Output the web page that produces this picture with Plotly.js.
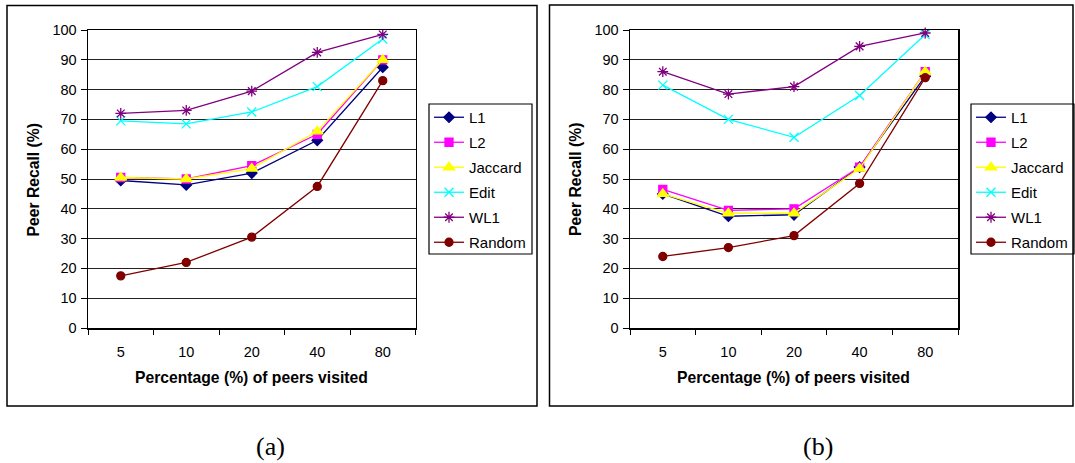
<!DOCTYPE html>
<html>
<head>
<meta charset="utf-8">
<script src="https://cdn.plot.ly/plotly-3.0.1.min.js"></script>
<style>html,body{margin:0;padding:0;background:#fff;}#chart{width:1075px;height:463px;}</style>
</head>
<body>
<div id="chart"></div>
<script>
const categories = ['5', '10', '20', '40', '80'];
const seriesNames = ['L1', 'L2', 'Jaccard', 'Edit', 'WL1', 'Random'];

// Chart (a)
const aL1      = [49.5, 48.0, 52.0, 63.0, 87.5];
const aL2      = [50.5, 50.0, 54.5, 65.0, 90.0];
const aJaccard = [50.5, 50.0, 53.5, 66.0, 90.0];
const aEdit    = [69.5, 68.5, 72.5, 81.0, 97.0];
const aWL1     = [72.0, 73.0, 79.5, 92.5, 98.5];
const aRandom  = [17.5, 22.0, 30.5, 47.5, 83.0];

// Chart (b)
const bL1      = [45.0, 37.5, 38.0, 54.0, 84.5];
const bL2      = [46.5, 39.5, 40.0, 54.0, 86.0];
const bJaccard = [45.0, 38.5, 38.5, 53.5, 86.0];
const bEdit    = [81.5, 70.0, 64.0, 78.0, 98.5];
const bWL1     = [86.0, 78.5, 81.0, 94.5, 99.0];
const bRandom  = [24.0, 27.0, 31.0, 48.5, 84.0];

const yTicks = [0, 10, 20, 30, 40, 50, 60, 70, 80, 90, 100];

const styles = [
  {color: '#000080', symbol: 'diamond', size: 8},
  {color: '#FF00FF', symbol: 'square', size: 8},
  {color: '#FFFF00', symbol: 'triangle-up', size: 10},
  {color: '#00FFFF', symbol: 'x-thin-open', size: 9},
  {color: '#800080', symbol: 'asterisk-open', size: 9},
  {color: '#800000', symbol: 'circle', size: 8}
];

const aData = [aL1, aL2, aJaccard, aEdit, aWL1, aRandom];
const bData = [bL1, bL2, bJaccard, bEdit, bWL1, bRandom];

const traces = [];
function addTraces(dataSets, xa, ya, legendName, grpPrefix) {
  dataSets.forEach((vals, i) => {
    const s = styles[i];
    traces.push({
      type: 'scatter', mode: 'lines+markers',
      x: categories, y: vals, name: seriesNames[i],
      xaxis: xa, yaxis: ya, legend: legendName, legendgroup: grpPrefix + i,
      line: {color: s.color, width: 1.3},
      marker: {color: s.color, symbol: s.symbol, size: s.size, line: {color: s.color, width: 1.3}},
      cliponaxis: false
    });
  });
}
addTraces(aData, 'x', 'y', 'legend', 'a');
addTraces(bData, 'x2', 'y2', 'legend2', 'b');

const fam = 'Arial, Liberation Sans, sans-serif';
const tickFont = {family: fam, size: 14.5, color: '#000'};
const titleFont = {family: fam, size: 15.7, color: '#000', weight: 'bold'};

function xAxis(domain, anchor) {
  return {
    domain: domain, anchor: anchor, type: 'category', range: [-0.5, 4.5],
    tickson: 'boundaries', ticks: 'outside', ticklen: 5, tickcolor: '#000', tickwidth: 1,
    showline: true, linecolor: '#000', linewidth: 1.5, mirror: true,
    showgrid: false, zeroline: false, tickfont: tickFont, ticklabelstandoff: 10,
    fixedrange: true
  };
}
function yAxis(domain, anchor) {
  return {
    domain: domain, anchor: anchor, range: [0, 100], tickvals: yTicks, ticktext: yTicks.map(String),
    ticks: 'outside', ticklen: 6, tickcolor: '#000', tickwidth: 1,
    showline: true, linecolor: '#000', linewidth: 1.5, mirror: true,
    showgrid: true, gridcolor: '#222', gridwidth: 1, zeroline: false,
    tickfont: tickFont, ticklabelstandoff: 1, fixedrange: true
  };
}

const H = 463, W = 1075;
const yDom = [(H - 328) / H, (H - 30) / H];

const legendCommon = {
  bgcolor: 'rgba(0,0,0,0)', borderwidth: 0,
  font: {family: fam, size: 15, color: '#000'},
  xanchor: 'left', yanchor: 'top', traceorder: 'grouped', tracegroupgap: 2.5,
  itemwidth: 30
};

function box(x0, x1, y0, y1, w) {
  return {type: 'rect', xref: 'paper', yref: 'paper', x0: x0 / W, x1: x1 / W, y0: (H - y1) / H, y1: (H - y0) / H,
          line: {color: '#000', width: w}, fillcolor: 'rgba(0,0,0,0)', layer: 'below'};
}

const layout = {
  width: W, height: H,
  margin: {l: 0, r: 0, t: 0, b: 0},
  paper_bgcolor: '#fff', plot_bgcolor: '#fff',
  showlegend: true,
  xaxis: xAxis([88 / W, 415.5 / W], 'y'),
  yaxis: yAxis(yDom, 'x'),
  xaxis2: xAxis([630 / W, 958 / W], 'y2'),
  yaxis2: yAxis(yDom, 'x2'),
  legend: Object.assign({x: 429 / W, y: (H - 101) / H}, legendCommon),
  legend2: Object.assign({x: 971 / W, y: (H - 101) / H}, legendCommon),
  shapes: [
    box(7, 537, 5.5, 406, 1.5),
    box(549.5, 1073, 5, 406, 1.5),
    box(429, 532, 104, 254, 1.2),
    box(971, 1074, 104, 254, 1.2)
  ],
  annotations: [
    {text: 'Percentage (%) of peers visited', xref: 'paper', yref: 'paper', x: 251.5 / W, y: (H - 377.5) / H,
     showarrow: false, font: titleFont, xanchor: 'center', yanchor: 'middle'},
    {text: 'Percentage (%) of peers visited', xref: 'paper', yref: 'paper', x: 793.5 / W, y: (H - 377.5) / H,
     showarrow: false, font: titleFont, xanchor: 'center', yanchor: 'middle'},
    {text: 'Peer Recall (%)', xref: 'paper', yref: 'paper', x: 33.5 / W, y: (H - 180) / H, textangle: -90,
     showarrow: false, font: titleFont, xanchor: 'center', yanchor: 'middle'},
    {text: 'Peer Recall (%)', xref: 'paper', yref: 'paper', x: 576 / W, y: (H - 180) / H, textangle: -90,
     showarrow: false, font: titleFont, xanchor: 'center', yanchor: 'middle'},
    {text: '(a)', xref: 'paper', yref: 'paper', x: 270.5 / W, y: (H - 446) / H, showarrow: false,
     font: {family: 'Liberation Serif, Times New Roman, serif', size: 26, color: '#000'}, xanchor: 'center', yanchor: 'middle'},
    {text: '(b)', xref: 'paper', yref: 'paper', x: 818 / W, y: (H - 446) / H, showarrow: false,
     font: {family: 'Liberation Serif, Times New Roman, serif', size: 26, color: '#000'}, xanchor: 'center', yanchor: 'middle'}
  ]
};

Plotly.newPlot('chart', traces, layout, {displayModeBar: false, staticPlot: true});
</script>
</body>
</html>
